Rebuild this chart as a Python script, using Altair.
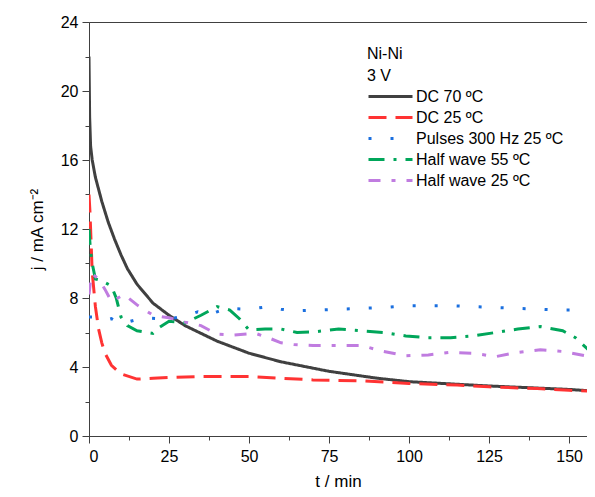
import altair as alt
import pandas as pd

# ---- data ----
t_dc70 = [0, 0.2, 0.5, 1, 2, 4, 6, 8, 10, 12, 15, 20, 25, 30, 40, 50, 60, 75, 90, 100, 125, 150, 158]
j_dc70 = [22, 18.5, 16.8, 16.0, 15.0, 13.6, 12.4, 11.4, 10.5, 9.7, 8.8, 7.7, 7.0, 6.4, 5.5, 4.8, 4.3, 3.75, 3.35, 3.15, 2.9, 2.7, 2.6]

t_dc25 = [0, 0.3, 0.6, 1, 2, 3, 4, 5, 7, 10, 15, 20, 25, 35, 50, 60, 70, 85, 100, 115, 125, 140, 150, 158]
j_dc25 = [14.0, 13.0, 11.5, 9.5, 7.5, 6.2, 5.4, 4.8, 4.1, 3.6, 3.3, 3.35, 3.4, 3.45, 3.45, 3.35, 3.25, 3.2, 3.05, 2.95, 2.85, 2.75, 2.65, 2.6]

t_pul = [0, 2, 5, 7, 10, 14, 17, 22, 27, 31, 34, 37, 40, 43, 50, 56, 60, 64, 71, 78, 85, 92, 99, 106, 113, 120, 127, 134, 141, 148, 155, 158]
j_pul = [6.9, 6.9, 6.7, 6.8, 6.5, 6.7, 6.85, 6.8, 6.85, 7.0, 7.2, 7.0, 7.2, 7.4, 7.35, 7.5, 7.35, 7.25, 7.3, 7.35, 7.4, 7.45, 7.55, 7.55, 7.55, 7.5, 7.45, 7.4, 7.35, 7.3, 7.3, 7.3]

t_hw55 = [0, 0.4, 1, 2, 4, 7, 8.5, 10, 12, 15, 20, 22, 25, 30, 35, 40, 44, 47, 50, 55, 60, 65, 71, 78, 85, 92, 99, 106, 113, 120, 127, 134, 141, 148, 152, 156, 158]
j_hw55 = [12.0, 10.9, 10.0, 9.1, 9.0, 8.7, 8.0, 6.9, 6.4, 6.1, 5.95, 6.3, 6.65, 6.55, 7.0, 7.5, 7.3, 6.8, 6.15, 6.2, 6.2, 6.0, 6.05, 6.2, 6.1, 6.0, 5.8, 5.7, 5.7, 5.8, 6.0, 6.2, 6.35, 6.1, 5.7, 5.0, 4.9]

t_hw25 = [0, 0.5, 1, 3, 5, 7, 9, 11, 15, 20, 25, 30, 35, 40, 45, 52, 56, 60, 64, 70, 78, 85, 92, 99, 106, 113, 120, 127, 134, 141, 148, 155, 158]
j_hw25 = [8.2, 9.0, 9.4, 9.1, 8.5, 7.8, 8.0, 8.2, 7.6, 7.0, 6.85, 6.6, 6.4, 5.9, 5.85, 5.95, 5.7, 5.4, 5.3, 5.25, 5.25, 5.25, 4.9, 4.65, 4.7, 4.85, 4.8, 4.6, 4.85, 5.0, 4.9, 4.65, 4.5]

series_names = ["DC 70 ºC", "DC 25 ºC", "Pulses 300 Hz 25 ºC", "Half wave 55 ºC", "Half wave 25 ºC"]
series_colors = ["#404040", "#ff3333", "#1a6fdf", "#00a65a", "#c07ce0"]
series_dash = [[1, 0], [18, 9], [3, 19], [16, 9, 3, 9], [12, 11, 4, 11]]

rows = []
for name, ts, js in zip(series_names,
                        [t_dc70, t_dc25, t_pul, t_hw55, t_hw25],
                        [j_dc70, j_dc25, j_pul, j_hw55, j_hw25]):
    for i, (t, j) in enumerate(zip(ts, js)):
        rows.append({"series": name, "t": t, "j": j, "order": i})
df = pd.DataFrame(rows)

font = "Liberation Sans"

x_vals = [v * 12.5 for v in range(13)]
y_vals = list(range(0, 25, 2))

chart = alt.Chart(df).mark_line(strokeWidth=3, strokeCap="butt", clip=True).encode(
    x=alt.X("t:Q", title="t / min",
            scale=alt.Scale(domain=[0, 155.6], nice=False, zero=False),
            axis=alt.Axis(values=x_vals, grid=False,
                          labelExpr="datum.value % 25 === 0 ? datum.label : ''",
                          labelOverlap=False,
                          tickSize={"condition": {"test": "datum.value % 25 === 0", "value": 7}, "value": 4},
                          domainColor="#404040", tickColor="#404040",
                          labelFont=font, labelFontSize=16, labelColor="black", labelPadding=5,
                          titleFont=font, titleFontSize=17, titleFontWeight="normal",
                          titleColor="black", titlePadding=9)),
    y=alt.Y("j:Q", title="j / mA cm⁻²",
            scale=alt.Scale(domain=[0, 24], nice=False),
            axis=alt.Axis(values=y_vals, grid=False,
                          labelExpr="datum.value % 4 === 0 ? datum.label : ''",
                          labelOverlap=False,
                          tickSize={"condition": {"test": "datum.value % 4 === 0", "value": 7}, "value": 4},
                          domainColor="#404040", tickColor="#404040",
                          labelFont=font, labelFontSize=16, labelColor="black", labelPadding=4,
                          titleFont=font, titleFontSize=17, titleFontWeight="normal",
                          titleColor="black", titlePadding=14)),
    color=alt.Color("series:N",
                    scale=alt.Scale(domain=series_names, range=series_colors),
                    legend=alt.Legend(title=["Ni-Ni", "3 V"], orient="none",
                                      legendX=278, legendY=24,
                                      titleFont=font, titleFontSize=16, titleFontWeight="normal",
                                      titleColor="black", titleLineHeight=22, titlePadding=0,
                                      labelFont=font, labelFontSize=16, labelColor="black",
                                      symbolType="M-1,0H3", symbolSize=484, symbolStrokeWidth=3,
                                      rowPadding=0, labelOffset=24)),
    strokeDash=alt.StrokeDash("series:N",
                              scale=alt.Scale(domain=series_names, range=series_dash),
                              legend=None),
    order="order:Q",
).properties(
    width=498, height=414,
    autosize=alt.AutoSizeParams(type="none"),
    padding={"left": 81, "top": 14, "right": 0, "bottom": 53},
).configure_view(stroke="#404040", strokeWidth=1)

chart.save("out.html", embed_options={"renderer": "svg", "actions": False})
